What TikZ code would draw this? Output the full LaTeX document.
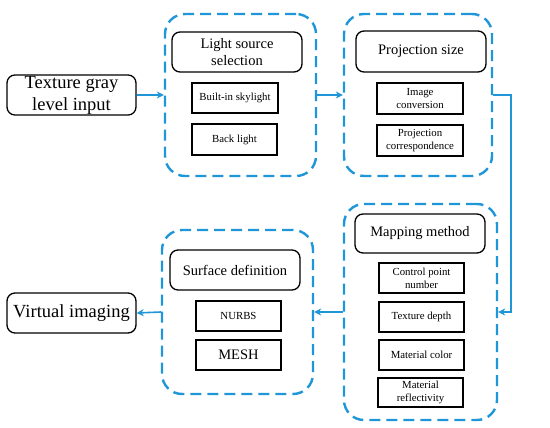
\documentclass[tikz,border=0pt]{standalone}
\usepackage{fontspec}
\setmainfont{Liberation Serif}
\usetikzlibrary{arrows.meta, positioning}
\definecolor{flowblue}{RGB}{30,150,216}
\tikzset{
  groupbox/.style={
    rectangle, rounded corners=20pt,
    minimum width=#1, inner sep=0pt,
    draw=flowblue, line width=2.4pt, dash pattern=on 11pt off 6pt
  },
  headbox/.style={
    rectangle, rounded corners=8pt,
    minimum width=130pt, minimum height=40pt,
    text centered, align=center, font=\fontsize{14.5}{17}\selectfont,
    draw=black, line width=1.3pt, inner sep=2pt
  },
  itembox/.style={
    rectangle,
    minimum width=85pt, minimum height=30pt,
    text centered, align=center, font=\fontsize{10.8}{13}\selectfont,
    draw=black, line width=1.3pt, inner sep=1pt
  },
  endbox/.style={
    rectangle, rounded corners=8pt,
    minimum width=129pt, minimum height=40pt,
    text centered, align=center, font=\fontsize{18.5}{22}\selectfont,
    draw=black, line width=1.3pt, inner sep=1pt
  },
  flowarrow/.style={-{Stealth[length=7pt,width=7pt]}, line width=1.6pt, color=flowblue},
}
\begin{document}
\begin{tikzpicture}[x=1pt,y=-1pt]
      \useasboundingbox (0,0) rectangle (550,428);
      % input and output
      \node[endbox](tex)at(71.5,95)  {Texture gray\\level input};
      \node[endbox](vir)at(71.5,313) {Virtual imaging};
      % light source
      \node[groupbox=151pt,minimum height=162pt](gls)at(240.5,95) {};
      \node[headbox](hls)at(237,52)   {Light source\\selection};
      \node[itembox,minimum width=86pt](sky)at(235,98) {Built-in skylight};
      \node[itembox,minimum height=31pt](back)at(234.5,139.5) {Back light};
      % projection
      \node[groupbox=148pt,minimum height=162pt](gps)at(418,95) {};
      \node[headbox,minimum height=41pt](hps)at(421,51.5) {Projection size};
      \node[itembox,minimum width=86pt,minimum height=31pt](conv)at(420,98.5)  {Image\\conversion};
      \node[itembox,minimum width=86pt,minimum height=31pt](corr)at(420,140.5) {Projection\\correspondence};
      % mapping
      \node[groupbox=153pt,minimum height=216pt](gmm)at(420.5,312) {};
      \node[headbox,minimum height=39pt](hmm)at(420,233.5) {Mapping method};
      \node[itembox](ctrl)at(421.5,278)  {Control point\\number};
      \node[itembox](dep)at(421.5,317)   {Texture depth};
      \node[itembox](col)at(421.5,355)   {Material color};
      \node[itembox,minimum height=29pt](refl)at(420.5,392.5) {Material\\reflectivity};
      % surface
      \node[groupbox=151pt,minimum height=164pt](gsd)at(237.5,312) {};
      \node[headbox](hsd)at(235,270) {Surface definition};
      \node[itembox](nurbs)at(238.5,316) {NURBS};
      \node[itembox,font=\fontsize{14.5}{17}\selectfont](mesh)at(238.5,355) {MESH};
      % connectors
      \draw[flowarrow](tex.east)--(gls.west);
      \draw[flowarrow](gls.east)--(gps.west);
      \draw[flowarrow](gps.east)--++(18,0)|-(gmm.east);
      \draw[flowarrow](gmm.west)--(gsd.east);
      \draw[flowarrow](gsd.west)--(vir.east);
    \end{tikzpicture}
\end{document}
